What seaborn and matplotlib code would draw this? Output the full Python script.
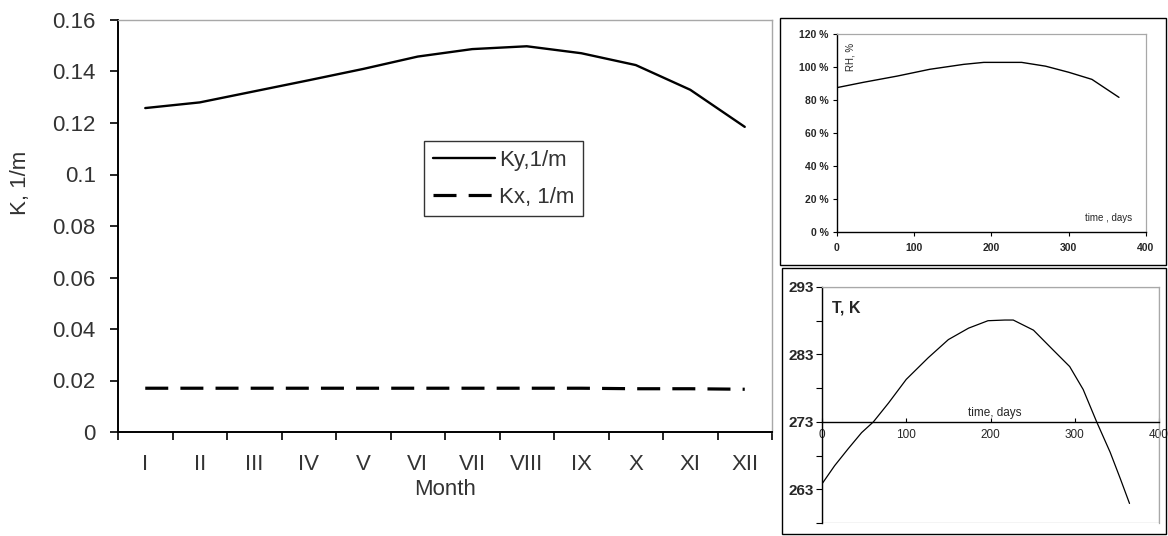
import matplotlib
matplotlib.use("Agg")
import matplotlib.pyplot as plt
from matplotlib.patches import Rectangle
import seaborn as sns
import numpy as np

# main chart: extinction coefficients by month
months = ["I", "II", "III", "IV", "V", "VI", "VII", "VIII", "IX", "X", "XI", "XII"]
ky = [0.1258, 0.1280, 0.1323, 0.1366, 0.1410, 0.1458, 0.1487, 0.1498, 0.1471, 0.1425, 0.1329, 0.1185]
kx = [0.0170, 0.0170, 0.0170, 0.0170, 0.0170, 0.0170, 0.0170, 0.0170, 0.0170, 0.0168, 0.0168, 0.0166]

# relative humidity over the year
rh_days = [0, 34, 78, 120, 164, 190, 239, 270, 300, 330, 365]
rh_vals = [87.5, 90.7, 94.5, 98.6, 101.6, 102.8, 102.8, 100.5, 96.8, 92.5, 81.6]

# temperature over the year
t_days = [0, 15, 31, 47, 61, 79, 100, 126, 150, 174, 197, 217, 227, 251, 274, 294, 310, 326, 342, 354, 365]
t_vals = [263.8, 266.5, 269.0, 271.4, 273.0, 275.8, 279.3, 282.5, 285.2, 286.9, 288.0, 288.1, 288.1,
          286.6, 283.7, 281.2, 277.8, 273.0, 268.5, 264.6, 260.9]

sns.set_style("white")
plt.rcParams["font.family"] = ["Liberation Sans", "DejaVu Sans"]

W, H = 1168, 536
fig = plt.figure(figsize=(W / 100, H / 100), dpi=100)


def fbox(x0, y0, x1, y1):
    # pixel box -> figure fraction [left, bottom, width, height]
    return [x0 / W, 1 - y1 / H, (x1 - x0) / W, (y1 - y0) / H]


FS = 16
TXT = "#333333"

# ---------------- main chart ----------------
ax = fig.add_axes(fbox(118, 20, 772, 432))
pos = np.arange(len(months))
sns.lineplot(x=pos, y=ky, ax=ax, color="black", lw=1.7, label="Ky,1/m")
sns.lineplot(x=pos, y=kx, ax=ax, color="black", lw=2.3,
             linestyle=(0, (7.2, 3.8)), label="Kx, 1/m")
ax.set_xlim(-0.5, len(months) - 0.5)
ax.set_ylim(0, 0.16)
ax.set_yticks(np.arange(0, 0.161, 0.02))
ax.set_yticklabels(["%g" % round(v, 2) for v in np.arange(0, 0.161, 0.02)])
ax.set_xticks(np.arange(-0.5, len(months)), [""] * (len(months) + 1))
ax.set_xticks(pos, months, minor=True)
ax.tick_params(axis="x", which="major", direction="out", length=6, width=1.2,
               color="black", bottom=True)
ax.tick_params(axis="x", which="minor", length=0, pad=16, labelsize=FS,
               labelcolor=TXT, bottom=True)
ax.tick_params(axis="y", direction="out", length=6, width=1.2, color="black",
               pad=10, labelsize=FS, labelcolor=TXT, left=True)
for s in ["left", "bottom"]:
    ax.spines[s].set_color("black")
    ax.spines[s].set_linewidth(1.4)
for s in ["top", "right"]:
    ax.spines[s].set_color("#a8a8a8")
    ax.spines[s].set_linewidth(1.0)
ax.set_xlabel("Month", fontsize=FS, color=TXT, labelpad=3)
ax.set_ylabel("K, 1/m", fontsize=FS, color=TXT)
ax.yaxis.set_label_coords(-0.133, 0.604)
leg = ax.legend(loc="upper left", bbox_to_anchor=(0.468, 0.706), frameon=True,
                fancybox=False, edgecolor="black", fontsize=FS,
                handlelength=2.8, handletextpad=0.18, borderpad=0.4,
                labelspacing=0.7, borderaxespad=0)
leg.get_frame().set_linewidth(1.0)
for t in leg.get_texts():
    t.set_color(TXT)

# outer frames of the two small charts
fig.patches.append(Rectangle((780 / W, 1 - 265 / H), (1166 - 780) / W, (265 - 18) / H,
                             transform=fig.transFigure, fill=False, ec="black", lw=1.0))
fig.patches.append(Rectangle((782 / W, 1 - 534 / H), (1166 - 782) / W, (534 - 268) / H,
                             transform=fig.transFigure, fill=False, ec="black", lw=1.0))

# ---------------- RH chart ----------------
ax2 = fig.add_axes(fbox(837, 34, 1146, 232))
sns.lineplot(x=rh_days, y=rh_vals, ax=ax2, color="black", lw=1.0)
ax2.set_xlim(0, 400)
ax2.set_ylim(0, 120)
ax2.set_xticks(np.arange(0, 401, 100))
ax2.set_yticks(np.arange(0, 121, 20))
ax2.set_yticklabels(["%d %%" % v for v in np.arange(0, 121, 20)])
ax2.tick_params(axis="both", direction="out", length=3, width=0.8, color="black",
                labelsize=7.5, left=True, bottom=True, pad=3)
ax2.tick_params(axis="x", labelsize=7.5, pad=5)
for lab in ax2.get_xticklabels() + ax2.get_yticklabels():
    lab.set_fontweight("bold")
for s in ["left", "bottom"]:
    ax2.spines[s].set_color("black")
    ax2.spines[s].set_linewidth(1.0)
for s in ["top", "right"]:
    ax2.spines[s].set_color("#a8a8a8")
    ax2.spines[s].set_linewidth(0.9)
ax2.set_xlabel("")
ax2.set_ylabel("")
ax2.text(0.045, 0.885, "RH, %", transform=ax2.transAxes, rotation=90,
         fontsize=7, ha="center", va="center")
ax2.text(0.955, 0.07, "time , days", transform=ax2.transAxes,
         fontsize=7, ha="right", va="center")

# ---------------- T chart ----------------
ax3 = fig.add_axes(fbox(822, 287, 1159, 523))
sns.lineplot(x=t_days, y=t_vals, ax=ax3, color="black", lw=0.9)
ax3.set_xlim(0, 400)
ax3.set_ylim(258, 293)
yt = np.arange(258, 294, 5)
ax3.set_yticks(yt, [str(v) if v % 10 == 3 else "" for v in yt])
ax3.set_xticks(np.arange(0, 401, 100))
ax3.spines["bottom"].set_position(("data", 273))
ax3.spines["bottom"].set_color("black")
ax3.spines["bottom"].set_linewidth(1.0)
ax3.spines["left"].set_color("black")
ax3.spines["left"].set_linewidth(1.0)
for s in ["top", "right"]:
    ax3.spines[s].set_color("#a8a8a8")
    ax3.spines[s].set_linewidth(0.9)
ax3.add_patch(Rectangle((0, 0), 1, 1, transform=ax3.transAxes, fill=False,
                        ec="#a8a8a8", lw=0.9, zorder=0))
ax3.tick_params(axis="y", direction="out", length=4, width=0.8, color="black",
                labelsize=11, left=True, pad=2)
for lab in ax3.get_yticklabels():
    lab.set_fontweight("bold")
ax3.tick_params(axis="x", direction="in", length=3, width=0.8, color="black",
                labelsize=8.5, bottom=True, pad=5)
ax3.set_xlabel("")
ax3.set_ylabel("")
ax3.text(205, 273.4, "time, days", fontsize=8.5, ha="center", va="bottom")
ax3.text(0.03, 0.91, "T, K", transform=ax3.transAxes, fontsize=11.5,
         fontweight="bold", ha="left", va="center")

fig.savefig("out.png", dpi=100)
